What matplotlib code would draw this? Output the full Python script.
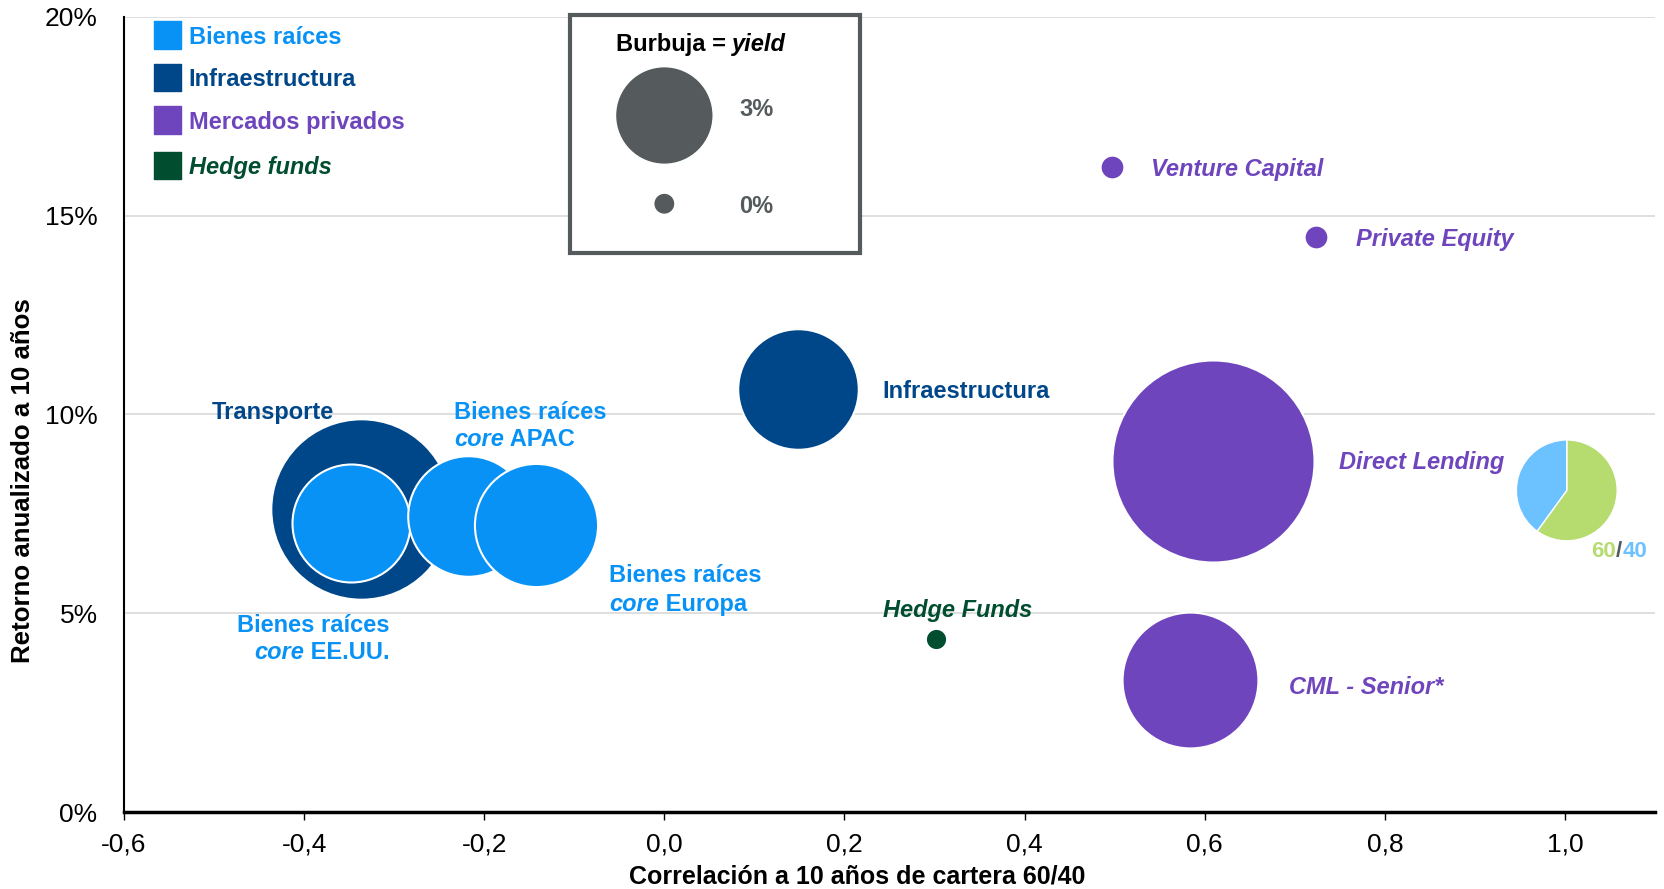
import matplotlib.pyplot as plt
from matplotlib.patches import Rectangle

plt.rcParams['font.family'] = ['Liberation Sans', 'DejaVu Sans']

# colores
C_BR = '#0892F6'      # bienes raices
C_INF = '#00478A'     # infraestructura
C_PRIV = '#6E45BC'    # mercados privados
C_HF = '#004D2F'      # hedge funds
C_GRIS = '#555A5D'
C_VERDE = '#B6DC6F'
C_CELESTE = '#6CC1FF'

# datos: correlacion, retorno (%), yield (%) -> tamano de burbuja
nombres = ['Transporte', 'Bienes raíces core EE.UU.', 'Bienes raíces core APAC',
           'Bienes raíces core Europa', 'Infraestructura', 'Direct Lending',
           'CML - Senior*', 'Hedge Funds', 'Venture Capital', 'Private Equity']
correlacion = [-0.337, -0.348, -0.218, -0.142, 0.148, 0.609, 0.584, 0.302, 0.497, 0.724]
retorno = [7.61, 7.26, 7.45, 7.21, 10.63, 8.84, 3.31, 4.35, 16.23, 14.47]
yields = [6.25, 3.8, 3.9, 4.0, 3.9, 7.1, 4.5, 0.0, 0.1, 0.1]
colores = [C_INF, C_BR, C_BR, C_BR, C_INF, C_PRIV, C_PRIV, C_HF, C_PRIV, C_PRIV]

# cartera 60/40
pie_x, pie_y = 1.002, 8.09
pie_vals = [60, 40]

# leyenda de tamanos
leyenda_yields = [3, 0]
leyenda_y = [17.52, 15.30]

categorias = ['Bienes raíces', 'Infraestructura', 'Mercados privados', 'Hedge funds']
cat_colores = [C_BR, C_INF, C_PRIV, C_HF]
cat_y = [19.55, 18.48, 17.41, 16.26]


def tamano(y):
    # radio en pixeles de la imagen -> area en puntos^2
    r_pt = (10 + 12 * y) * 1.0612 * 0.72
    return (2 * r_pt) ** 2


fig = plt.figure(figsize=(16.64, 8.89), dpi=100)
ax = fig.add_axes([0.0745, 0.0866, 0.9201, 0.8944])
ax.set_xlim(-0.6, 1.1)
ax.set_ylim(0, 20)

ax.set_yticks([0, 5, 10, 15, 20])
ax.set_yticklabels(['0%', '5%', '10%', '15%', '20%'])
ax.set_xticks([-0.6, -0.4, -0.2, 0.0, 0.2, 0.4, 0.6, 0.8, 1.0])
ax.set_xticklabels(['-0,6', '-0,4', '-0,2', '0,0', '0,2', '0,4', '0,6', '0,8', '1,0'])
ax.tick_params(axis='y', length=0, pad=19, labelsize=19)
ax.tick_params(axis='x', length=6, width=1, pad=9, labelsize=19, direction='out')
ax.grid(axis='y', color='#D9D9D9', lw=1.2)
ax.set_axisbelow(True)
for s in ['top', 'right']:
    ax.spines[s].set_visible(False)
ax.spines['left'].set_linewidth(1.5)
ax.spines['bottom'].set_linewidth(2.5)

ax.set_xlabel('Correlación a 10 años de cartera 60/40', fontsize=18, fontweight='bold')
ax.xaxis.set_label_coords(0.479, -0.066)
fig.text(0.014, 0.459, 'Retorno anualizado a 10 años', rotation=90, ha='center', va='center',
         fontsize=18.6, fontweight='bold')

# burbujas
for i in range(len(nombres)):
    ax.scatter(correlacion[i], retorno[i], s=tamano(yields[i]), color=colores[i],
               edgecolor='white', linewidth=1.5, zorder=3 + i)

# 60/40
w, h = 0.14, 3.2
pax = ax.inset_axes([pie_x - w / 2, pie_y - h / 2, w, h], transform=ax.transData)
pax.pie(pie_vals, colors=[C_VERDE, C_CELESTE], startangle=90, counterclock=False,
        wedgeprops=dict(edgecolor='white', linewidth=1))
t = ax.text(1.0295, 6.55, '60', color=C_VERDE, fontsize=16, fontweight='bold', va='center')
t = ax.annotate('/', xy=(1, 0), xycoords=t, va='bottom', color=C_GRIS, fontsize=16, fontweight='bold')
ax.annotate('40', xy=(1, 0), xycoords=t, va='bottom', color=C_CELESTE, fontsize=16, fontweight='bold')

fs = 17
dy = 0.06
kw = dict(fontsize=fs, fontweight='bold', va='center')
ax.text(-0.502, 10.12 - dy, 'Transporte', color=C_INF, **kw)
ax.text(0.2424, 10.63 - dy, 'Infraestructura', color=C_INF, **kw)
ax.text(-0.2336, 10.12 - dy, 'Bienes raíces', color=C_BR, **kw)
t = ax.text(-0.2336, 9.43 - dy, 'core', color=C_BR, style='italic', **kw)
ax.annotate(' APAC', xy=(1, 0), xycoords=t, va='bottom', color=C_BR, fontsize=fs, fontweight='bold')
ax.text(-0.0616, 6.01 - dy, 'Bienes raíces', color=C_BR, **kw)
t = ax.text(-0.0616, 5.29 - dy, 'core', color=C_BR, style='italic', **kw)
ax.annotate(' Europa', xy=(1, 0), xycoords=t, va='bottom', color=C_BR, fontsize=fs, fontweight='bold')
ax.text(-0.3054, 4.75 - dy, 'Bienes raíces', color=C_BR, ha='right', **kw)
t = ax.text(-0.3054, 4.06 - dy, ' EE.UU.', color=C_BR, ha='right', **kw)
ax.annotate('core', xy=(0, 0), xycoords=t, va='bottom', ha='right', color=C_BR,
            fontsize=fs, fontweight='bold', style='italic')
ax.text(0.326, 5.13 - dy, 'Hedge Funds', color=C_HF, ha='center', style='italic', **kw)
ax.text(0.6937, 3.20 - dy, 'CML - Senior*', color=C_PRIV, style='italic', **kw)
ax.text(0.749, 8.84 - dy, 'Direct Lending', color=C_PRIV, style='italic', **kw)
ax.text(0.5405, 16.23 - dy, 'Venture Capital', color=C_PRIV, style='italic', **kw)
ax.text(0.768, 14.47 - dy, 'Private Equity', color=C_PRIV, style='italic', **kw)

# leyenda de categorias
ax.scatter([-0.5517] * 4, cat_y, marker='s', s=396, color=cat_colores, zorder=3)
for i in range(4):
    ax.text(-0.528, cat_y[i] - dy, categorias[i], color=cat_colores[i],
            style='italic' if i == 3 else 'normal', **kw)

# leyenda de tamanos
ax.add_patch(Rectangle((-0.1052, 14.07), 0.3229, 5.98, fill=True, facecolor='white',
                       edgecolor=C_GRIS, linewidth=3, clip_on=False, zorder=20))
ax.scatter([0.0] * 2, leyenda_y, s=[tamano(v) for v in leyenda_yields], color=C_GRIS,
           edgecolor='white', linewidth=1, zorder=21)
t = ax.text(-0.054, 19.36 - dy, 'Burbuja = ', color='black', zorder=22, **kw)
ax.annotate('yield', xy=(1, 0), xycoords=t, va='bottom', color='black', fontsize=fs,
            fontweight='bold', style='italic', zorder=22)
for i in range(2):
    ax.text(0.0834, leyenda_y[i] + (0.21 if i == 0 else 0) - dy, f'{leyenda_yields[i]}%',
            color=C_GRIS, zorder=22, **kw)

fig.savefig('out.png', dpi=100)
